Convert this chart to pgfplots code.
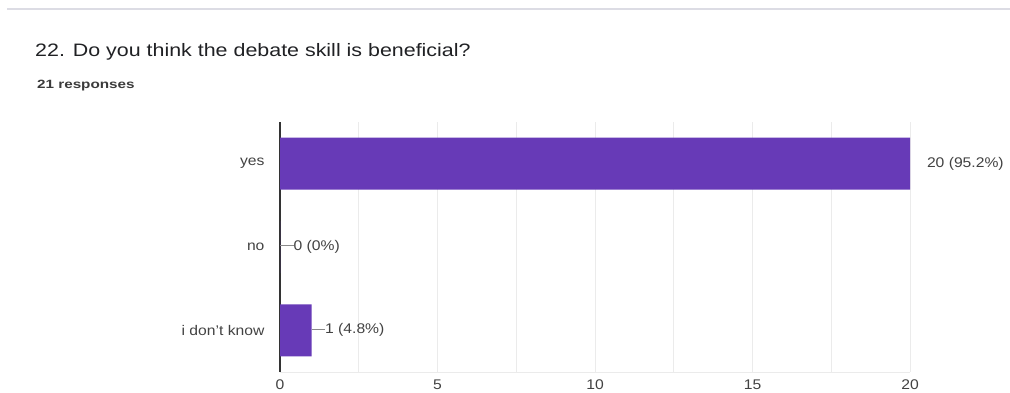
\documentclass[border=0pt]{standalone}
\usepackage{fontspec}
\setmainfont{Liberation Sans}
\usepackage{pgfplots}
\pgfplotsset{compat=1.18}

\definecolor{barpurple}{HTML}{673AB7}
\definecolor{titlegray}{HTML}{202124}
\definecolor{labelgray}{HTML}{424242}
\definecolor{gridgray}{HTML}{EBEBEB}
\definecolor{axisgray}{HTML}{333333}
\definecolor{leadgray}{HTML}{8A8A8A}
\definecolor{cardline}{HTML}{DCDCE4}

% short leader line in front of a value label
\newcommand\lead{\textcolor{leadgray}{\rule[0.32em]{12pt}{0.8pt}}}
% chart text is set slightly wide
\newcommand\wide[1]{\scalebox{1.12}[1]{#1}}

\begin{document}
\begin{tikzpicture}
\path[use as bounding box, clip] (0pt,0pt) rectangle (1010pt,392pt);

% card edge
\draw[cardline, line width=2pt] (7pt,383pt) -- (1012pt,383pt);

% heading
\node[anchor=base west, inner sep=0pt, text=titlegray] at (35pt,335pt)
  {\scalebox{1.19}[1]{\fontsize{18}{21}\selectfont 22. Do you think the debate skill is beneficial?}};
\node[anchor=base west, inner sep=0pt, text=labelgray!90!black] at (37pt,304pt)
  {\scalebox{1.27}[1]{\fontsize{12}{14}\selectfont\bfseries 21 responses}};

\begin{axis}[
  at={(280pt,20pt)}, anchor=south west,
  scale only axis, width=630pt, height=250pt,
  xmin=0, xmax=20, ymin=-0.5, ymax=2.5,
  xtick={0,5,10,15,20},
  minor xtick={2.5,7.5,12.5,17.5},
  ytick={0,1,2},
  yticklabels={\wide{i don't know}, \wide{no}, \wide{yes}},
  major tick length=0pt, minor tick length=0pt,
  xmajorgrids, xminorgrids,
  major grid style={gridgray, line width=0.8pt},
  minor grid style={gridgray, line width=0.8pt},
  separate axis lines,
  axis x line*=bottom, axis y line*=left,
  x axis line style={gridgray, line width=0.8pt, -},
  y axis line style={axisgray, line width=1.3pt, -},
  /pgf/number format/assume math mode=true,
  tick label style={font=\fontsize{14}{16}\selectfont, text=labelgray},
  xticklabel={\wide{\pgfmathprintnumber{\tick}}},
  yticklabel style={xshift=-12pt},
  xticklabel style={yshift=-4pt},
]
\addplot[xbar, fill=barpurple, draw=none, bar width=52pt,
  point meta=explicit symbolic,
  nodes near coords={\wide{\pgfplotspointmeta}},
  every node near coord/.append style={anchor=west, inner sep=0pt,
    font=\fontsize{14}{16}\selectfont, text=labelgray}]
  coordinates {
    (20,2) [\hspace{15pt}20 (95.2\%)]
    (0,1)  [\lead 0 (0\%)]
    (1,0)  [\lead 1 (4.8\%)]
  };
\end{axis}
\end{tikzpicture}
\end{document}
